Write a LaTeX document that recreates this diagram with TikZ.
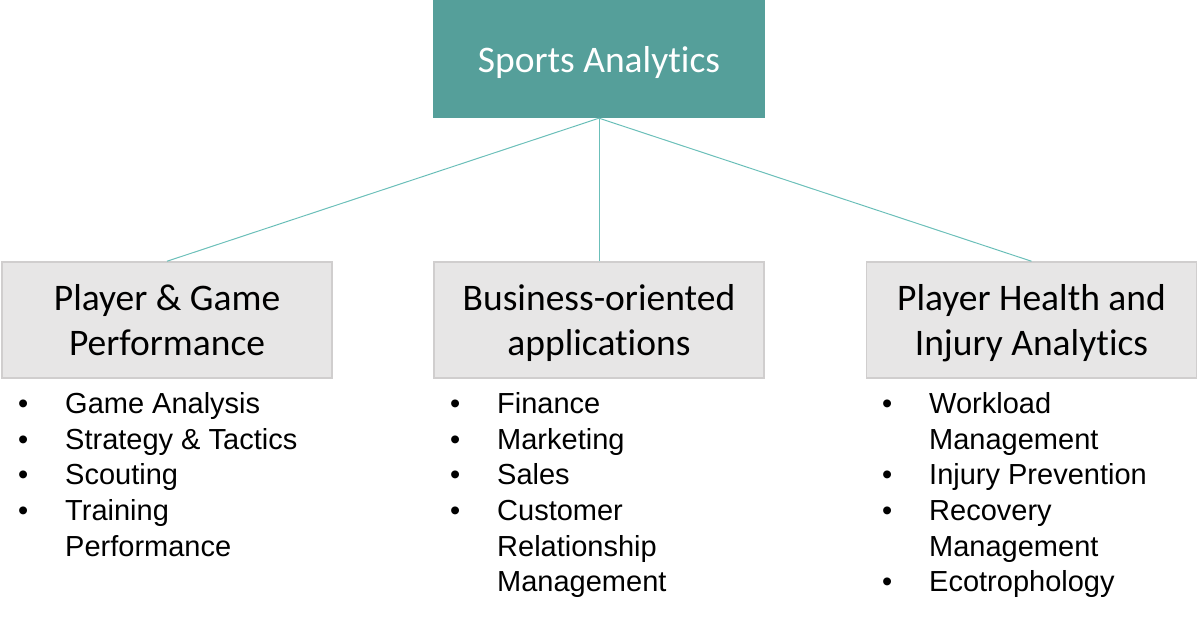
\documentclass[tikz,border=0pt]{standalone}
\usepackage{fontspec}
\newfontfamily\carlito[Ligatures=NoCommon]{Carlito}
\newfontfamily\lsans{Liberation Sans}
\definecolor{tealbox}{HTML}{559F9A}
\definecolor{tealline}{HTML}{6BBFB9}
\definecolor{boxfill}{HTML}{E7E6E6}
\definecolor{boxline}{HTML}{D0CECE}
\begin{document}
\begin{tikzpicture}[x=1pt,y=-1pt,
  topbox/.style={fill=tealbox, draw=none, minimum width=332pt, minimum height=118pt, inner sep=0pt, text=white, text height=28pt, text depth=0pt, font=\carlito\fontsize{37.5}{45}\selectfont},
  catbox/.style={fill=boxfill, draw=boxline, line width=1.5pt, minimum width=330pt, minimum height=116pt, inner sep=0pt},
  cattext/.style={anchor=base, inner sep=0pt, font=\carlito\fontsize{37.5}{45}\selectfont},
  conn/.style={draw=tealline, line width=1pt},
  listitem/.style={anchor=base west, inner sep=0pt, font=\lsans\fontsize{29}{35.5}\selectfont},
  bul/.style={anchor=base west, inner sep=0pt, font=\lsans\fontsize{29}{35.5}\selectfont}]
\useasboundingbox (0,0) rectangle (1200,617);

\node[topbox] (top) at (599,59) {Sports Analytics};

\node[catbox] (c1) at (167,320) {};
\node[catbox] (c2) at (599,320) {};
\node[catbox] (c3) at (1031.5,320) {};

\node[cattext] (c1a) at (167,311) {Player \& Game};
\node[cattext] (c1b) at (167,356) {Performance};
\node[cattext] (c2a) at (599,311) {Business-oriented};
\node[cattext] (c2b) at (599,356) {applications};
\node[cattext] (c3a) at (1031.5,311) {Player Health and};
\node[cattext] (c3b) at (1031.5,356) {Injury Analytics};

\draw[conn] (top.south) -- (c1.north);
\draw[conn] (top.south) -- (c2.north);
\draw[conn] (top.south) -- (c3.north);

% left list
\foreach \t [count=\i] in {Game Analysis, Strategy \& Tactics, Scouting, Training, Performance}
  \node[listitem] (la\i) at (65,{414+(\i-1)*35.5}) {\t};
\foreach \i in {1,2,3,4}
  \node[bul] (lb\i) at (18,{414+(\i-1)*35.5}) {•};

% middle list
\foreach \t [count=\i] in {Finance, Marketing, Sales, Customer, Relationship, Management}
  \node[listitem] (ma\i) at (497,{414+(\i-1)*35.5}) {\t};
\foreach \i in {1,2,3,4}
  \node[bul] (mb\i) at (450,{414+(\i-1)*35.5}) {•};

% right list
\foreach \t [count=\i] in {Workload, Management, Injury Prevention, Recovery, Management, Ecotrophology}
  \node[listitem] (ra\i) at (929,{414+(\i-1)*35.5}) {\t};
\foreach \i in {1,3,4,6}
  \node[bul] (rb\i) at (882,{414+(\i-1)*35.5}) {•};
\end{tikzpicture}
\end{document}
